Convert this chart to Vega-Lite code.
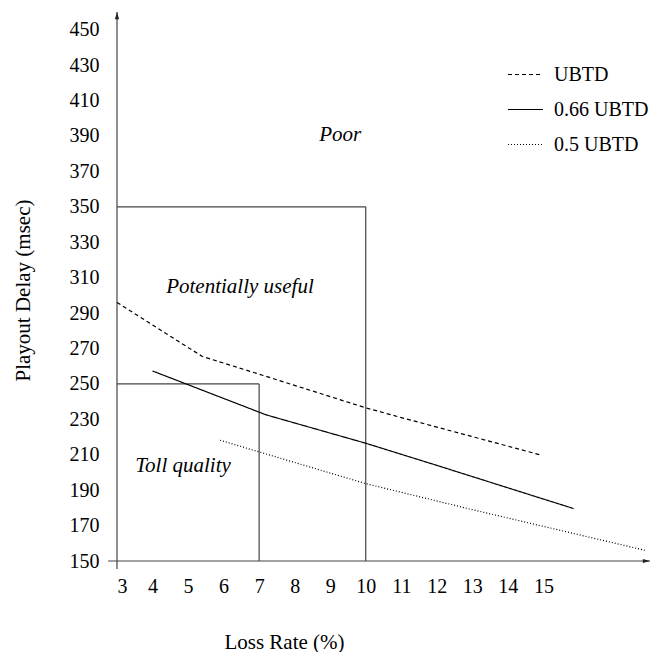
{
  "$schema": "https://vega.github.io/schema/vega-lite/v6.json",
  "width": 533,
  "height": 549,
  "autosize": "none",
  "padding": {"left": 117, "top": 12, "right": 6, "bottom": 91},
  "background": "white",
  "config": {
    "view": {"stroke": null},
    "font": "Liberation Serif, Times New Roman, serif",
    "axis": {"labelFont": "Liberation Serif, Times New Roman, serif", "titleFont": "Liberation Serif, Times New Roman, serif", "labelColor": "black", "titleColor": "black", "titleFontWeight": "normal"},
    "legend": {"labelFont": "Liberation Serif, Times New Roman, serif"},
    "text": {"font": "Liberation Serif, Times New Roman, serif"}
  },
  "datasets": {
    "curves": [
      {"x": 3, "y": 296, "s": "UBTD"},
      {"x": 5.4, "y": 265.5, "s": "UBTD"},
      {"x": 7, "y": 255.5, "s": "UBTD"},
      {"x": 10, "y": 236.5, "s": "UBTD"},
      {"x": 11, "y": 231, "s": "UBTD"},
      {"x": 14.9, "y": 210, "s": "UBTD"},
      {"x": 4, "y": 257.3, "s": "0.66 UBTD"},
      {"x": 7.2, "y": 232.5, "s": "0.66 UBTD"},
      {"x": 10, "y": 216.5, "s": "0.66 UBTD"},
      {"x": 12, "y": 204, "s": "0.66 UBTD"},
      {"x": 15.85, "y": 179.6, "s": "0.66 UBTD"},
      {"x": 5.9, "y": 218.2, "s": "0.5 UBTD"},
      {"x": 7, "y": 211.6, "s": "0.5 UBTD"},
      {"x": 10, "y": 193.7, "s": "0.5 UBTD"},
      {"x": 13, "y": 179, "s": "0.5 UBTD"},
      {"x": 17.87, "y": 156, "s": "0.5 UBTD"}
    ]
  },
  "encoding": {
    "x": {"field": "x", "type": "quantitative", "scale": {"domain": [3, 18], "nice": false, "zero": false},
      "axis": {"values": [3,4,5,6,7,8,9,10,11,12,13,14,15], "domain": false, "ticks": false, "grid": false, "labelOverlap": false, "labelPadding": 15, "labelFontSize": 20, "title": "Loss Rate (%)", "titleFontSize": 21, "titleX": 167, "titleY": 87, "titleBaseline": "alphabetic", "titleAnchor": "middle"}},
    "y": {"field": "y", "type": "quantitative", "scale": {"domain": [150, 460], "nice": false, "zero": false},
      "axis": {"values": [150,170,190,210,230,250,270,290,310,330,350,370,390,410,430,450], "domain": false, "ticks": false, "grid": false, "labelOverlap": false, "labelPadding": 18, "labelFontSize": 20, "title": "Playout Delay (msec)", "titleFontSize": 21, "titleX": -94, "titleY": 278, "titleBaseline": "middle", "titleAnchor": "middle"}}
  },
  "layer": [
    {
      "data": {"values": [
        {"x": 3, "x2": 7, "y": 250, "y2": 250},
        {"x": 7, "x2": 7, "y": 250, "y2": 150},
        {"x": 3, "x2": 10, "y": 350, "y2": 350},
        {"x": 10, "x2": 10, "y": 350, "y2": 150}
      ]},
      "mark": {"type": "rule", "color": "#444", "strokeWidth": 1.2},
      "encoding": {"x2": {"field": "x2"}, "y2": {"field": "y2"}}
    },
    {
      "data": {"values": [
        {"x": 2.75, "x2": 18, "y": 150, "y2": 150},
        {"x": 3, "x2": 3, "y": 145.5, "y2": 460}
      ]},
      "mark": {"type": "rule", "color": "#444", "strokeWidth": 1.2, "clip": false},
      "encoding": {"x2": {"field": "x2"}, "y2": {"field": "y2"}}
    },
    {
      "data": {"values": [{"x": 3, "y": 460}]},
      "mark": {"type": "point", "shape": "M0,0L-0.7,2.4L0.7,2.4Z", "size": 36, "filled": true, "color": "#222", "opacity": 1},
      "encoding": {}
    },
    {
      "data": {"values": [{"x": 18, "y": 150}]},
      "mark": {"type": "point", "shape": "M0,0L-2.4,-0.7L-2.4,0.7Z", "size": 36, "filled": true, "color": "#222", "opacity": 1},
      "encoding": {}
    },
    {
      "data": {"name": "curves"},
      "mark": {"type": "line", "color": "black", "strokeWidth": 1.2},
      "encoding": {
        "detail": {"field": "s"},
        "strokeDash": {"field": "s", "type": "nominal",
          "scale": {"domain": ["UBTD", "0.66 UBTD", "0.5 UBTD"], "range": [[4, 3], [1, 0], [1, 2]]},
          "legend": {"title": null, "orient": "none", "legendX": 390, "legendY": 44, "symbolType": "stroke", "symbolSize": 1225, "symbolStrokeColor": "black", "symbolStrokeWidth": 1.2, "labelFontSize": 20, "labelColor": "black", "labelOffset": 10, "rowPadding": 6}}
      }
    },
    {
      "data": {"values": [
        {"x": 9.28, "y": 390.5, "t": "Poor"},
        {"x": 6.46, "y": 304.6, "t": "Potentially useful"},
        {"x": 4.86, "y": 203.5, "t": "Toll quality"}
      ]},
      "mark": {"type": "text", "fontStyle": "italic", "fontSize": 21, "color": "black", "align": "center", "baseline": "middle"},
      "encoding": {"text": {"field": "t"}}
    }
  ]
}
